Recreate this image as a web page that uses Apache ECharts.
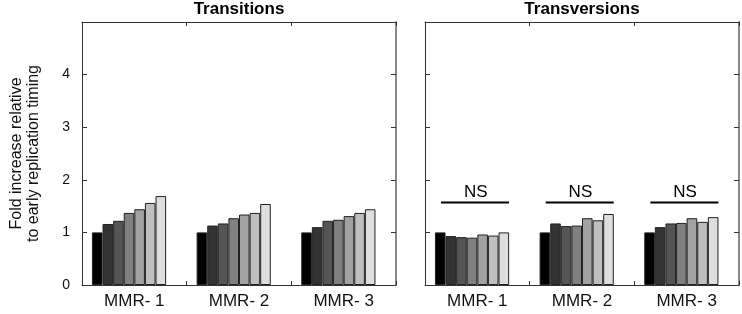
<!DOCTYPE html>
<html>
<head>
<meta charset="utf-8">
<script src="https://cdn.jsdelivr.net/npm/echarts@6/dist/echarts.min.js"></script>
<style>
  html, body { margin: 0; padding: 0; background: #fff; }
  #chart { width: 742px; height: 314px; }
</style>
</head>
<body>
<div id="chart"></div>
<script>
const categories = ['MMR- 1', 'MMR- 2', 'MMR- 3'];
const yTicks = [0, 1, 2, 3, 4, 5];

// seven timing bins per MMR group
const transitions = [
  [1.00, 1.16, 1.22, 1.37, 1.44, 1.56, 1.69],
  [1.00, 1.13, 1.17, 1.27, 1.34, 1.37, 1.54],
  [1.00, 1.10, 1.22, 1.24, 1.31, 1.37, 1.44]
];
const transversions = [
  [1.00, 0.93, 0.91, 0.90, 0.96, 0.94, 1.00],
  [1.00, 1.17, 1.12, 1.13, 1.27, 1.23, 1.35],
  [1.00, 1.10, 1.17, 1.18, 1.27, 1.20, 1.29]
];
const nsLevel = [1.57, 1.57, 1.57];

const binColors = ['#000000', '#333333', '#555555', '#808080', '#a2a2a2', '#bfbfbf', '#dedede'];
const font = 'Liberation Sans, Arial, Helvetica, sans-serif';

const chart = echarts.init(document.getElementById('chart'));

function xAxes(gridIndex) {
  const base = {
    type: 'category',
    gridIndex: gridIndex,
    data: categories,
    axisLine: { onZero: false, lineStyle: { color: '#333', width: 1 } },
    axisTick: { show: true, inside: true, length: 4, lineStyle: { color: '#333' } },
    splitLine: { show: false }
  };
  return [
    Object.assign({}, base, {
      position: 'bottom',
      axisLabel: { show: true, color: '#111', fontSize: 17, fontFamily: font, margin: 8 }
    }),
    Object.assign({}, base, {
      position: 'top',
      axisLabel: { show: false }
    })
  ];
}

function yAxes(gridIndex, showLabels, withName) {
  const base = {
    type: 'value',
    gridIndex: gridIndex,
    min: 0,
    max: 5,
    interval: 1,
    splitLine: { show: false },
    axisTick: { show: true, inside: true, length: 5, lineStyle: { color: '#333' } }
  };
  const left = Object.assign({}, base, {
    position: 'left',
    axisLine: { show: true, onZero: false, lineStyle: { color: '#333', width: 1 } },
    axisLabel: {
      show: showLabels, color: '#111', fontSize: 14, fontFamily: font, margin: 12,
      formatter: v => (yTicks.indexOf(v) >= 0 && v < 5 ? String(v) : '')
    }
  });
  if (withName) {
    left.name = 'Fold increase relative\nto early replication timing';
    left.nameLocation = 'middle';
    left.nameRotate = 90;
    left.nameGap = 40;
    left.nameTextStyle = { color: '#111', fontSize: 16, fontFamily: font, lineHeight: 17 };
  }
  const right = Object.assign({}, base, {
    position: 'right',
    axisLine: { show: true, onZero: false, lineStyle: { color: '#888', width: 2 } },
    axisLabel: { show: false }
  });
  return [left, right];
}

function barSeries(values, xIdx, yIdx) {
  const out = [];
  for (let b = 0; b < binColors.length; b++) {
    out.push({
      type: 'bar',
      xAxisIndex: xIdx,
      yAxisIndex: yIdx,
      barGap: '0%',
      barCategoryGap: '19%',
      data: values.map(g => g[b]),
      itemStyle: { color: binColors[b], borderColor: '#222', borderWidth: 1 },
      silent: true
    });
  }
  // empty eighth slot, keeps each group off-centre like the original
  out.push({
    type: 'bar', xAxisIndex: xIdx, yAxisIndex: yIdx,
    barGap: '0%', barCategoryGap: '19%',
    data: values.map(() => '-')
  });
  return out;
}

const option = {
  animation: false,
  grid: [
    { left: 82, right: 346, top: 22, bottom: 29 },
    { left: 425, right: 3, top: 22, bottom: 29 }
  ],
  xAxis: xAxes(0).concat(xAxes(1)),
  yAxis: yAxes(0, true, true).concat(yAxes(1, false, false)),
  graphic: [
    { type: 'text', x: 239, y: 1, style: { text: 'Transitions', font: 'bold 17px ' + font, fill: '#000', textAlign: 'center' } },
    { type: 'text', x: 582, y: 1, style: { text: 'Transversions', font: 'bold 17px ' + font, fill: '#000', textAlign: 'center' } }
  ],
  series: barSeries(transitions, 0, 0)
    .concat(barSeries(transversions, 2, 2))
    .concat([{
      type: 'custom',
      xAxisIndex: 2,
      yAxisIndex: 2,
      silent: true,
      data: nsLevel.map((v, i) => [i, v]),
      renderItem: function (params, api) {
        const p = api.coord([api.value(0), api.value(1)]);
        const w = api.size([1, 0])[0];
        return {
          type: 'group',
          children: [
            {
              type: 'line',
              shape: { x1: p[0] - 0.347 * w, y1: p[1], x2: p[0] + 0.303 * w, y2: p[1] },
              style: { stroke: '#000', lineWidth: 2 }
            },
            {
              type: 'text',
              x: p[0] - 0.015 * w,
              y: p[1] - 2,
              style: { text: 'NS', font: '17px ' + font, fill: '#000', textAlign: 'center', textVerticalAlign: 'bottom' }
            }
          ]
        };
      }
    }])
};

chart.setOption(option);
window.addEventListener('resize', () => chart.resize());
</script>
</body>
</html>
